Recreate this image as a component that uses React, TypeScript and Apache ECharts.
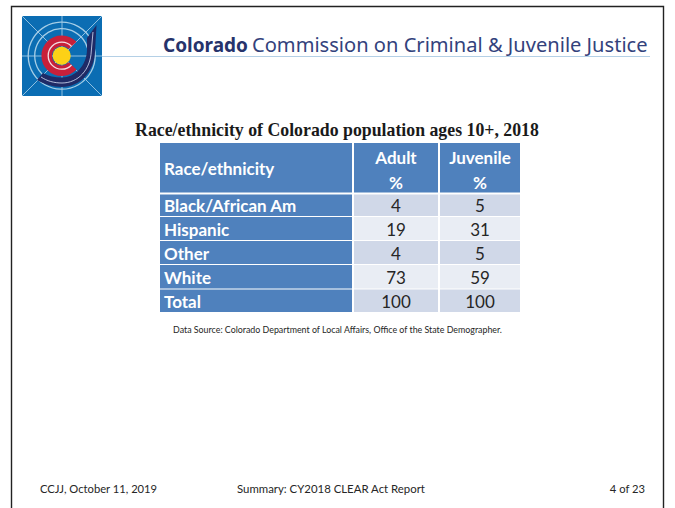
import React, { useEffect, useRef } from "react";
import * as echarts from "echarts";

const brandBold = "Colorado";
const brandRest = "Commission on Criminal & Juvenile Justice";
const tableTitle = "Race/ethnicity of Colorado population ages 10+, 2018";
const headerLabels = ["Race/ethnicity", "Adult", "Juvenile"];
const headerUnit = "%";
const categories = ["Black/African Am", "Hispanic", "Other", "White", "Total"];
const adultValues = [4, 19, 4, 73, 100];
const juvenileValues = [5, 31, 5, 59, 100];
const sourceNote = "Data Source: Colorado Department of Local Affairs, Office of the State Demographer.";
const footerLeft = "CCJJ, October 11, 2019";
const footerCenter = "Summary: CY2018 CLEAR Act Report";
const footerRight = "4 of 23";

// Table geometry in axis units (one unit = one pixel of the grid)
const colEdges = [0, 193, 279, 360];
const rowEdges = [0, 49.5, 73, 97, 121, 145.5, 169];
const BLUE = "#4f81bd";
const BAND1 = "#d0d8e8";
const BAND2 = "#e9edf4";
const BODY_FONT = "Lato";

type Cell = [number, number, string];
const cells: Cell[] = [];
headerLabels.forEach((t, c) => cells.push([c, 0, t]));
categories.forEach((t, i) => {
  cells.push([0, i + 1, t]);
  cells.push([1, i + 1, String(adultValues[i])]);
  cells.push([2, i + 1, String(juvenileValues[i])]);
});

echarts.graphic.registerShape(
  "ccjjHook",
  echarts.graphic.extendPath(
    "M 96.5 25 L 95 52 C 94 72 80 87 62 87 C 52 87 44 84 37 80 L 43 73 C 48 76 55 77.5 62 77.5 C 75 77.5 86.5 66 87 50 L 87 38 Z",
    {}
  ) as any
);
echarts.graphic.registerShape(
  "ccjjStripe",
  echarts.graphic.extendPath("M 93 32 L 91.3 51 C 90.5 70 78 83 62 83 C 54 83 47 81 41 77", {}) as any
);

function renderCell(params: any, api: any) {
  const c = api.value(0) as number;
  const r = api.value(1) as number;
  const text = cells[params.dataIndex][2];
  const p0 = api.coord([colEdges[c], rowEdges[r]]);
  const p1 = api.coord([colEdges[c + 1], rowEdges[r + 1]]);
  const gap = 1;
  const x = p0[0] + (c > 0 ? gap : 0);
  const y = p0[1] + (r === 1 ? 2 : r > 0 ? gap : 0);
  const w = p1[0] - x - (c < 2 ? gap : 0);
  const h = p1[1] - y;
  const fill = c === 0 || r === 0 ? BLUE : r % 2 === 1 ? BAND1 : BAND2;
  const children: any[] = [{ type: "rect", shape: { x, y, width: w, height: h }, style: { fill } }];
  const bold = c === 0 || r === 0;
  const color = bold ? "#ffffff" : "#262626";
  const font = `${bold ? "bold " : ""}17px ${BODY_FONT}`;
  if (r === 0 && c > 0) {
    children.push({
      type: "text",
      style: { text, x: x + w / 2, y: y + 14, align: "center", verticalAlign: "middle", fill: color, font },
    });
    children.push({
      type: "text",
      style: { text: headerUnit, x: x + w / 2, y: y + 39, align: "center", verticalAlign: "middle", fill: color, font },
    });
  } else {
    children.push({
      type: "text",
      style: {
        text,
        x: c === 0 ? x + 4 : x + w / 2,
        y: y + h / 2 + (r === 0 ? 1 : 0.6),
        align: c === 0 ? "left" : "center",
        verticalAlign: "middle",
        fill: color,
        font,
      },
    });
  }
  return { type: "group", children };
}

export default function App() {
  const ref = useRef<HTMLDivElement>(null);
  useEffect(() => {
    const chart = echarts.init(ref.current!, undefined, { renderer: "svg" });
    const ringColor = "#8fc0e0";
    const radial = [
      [22, 16, 102, 96],
      [102, 16, 22, 96],
      [22, 56, 102, 56],
      [62, 16, 62, 96],
    ];
    const cx = 61.7;
    const cy = 55.7;
    const arcStart = Math.PI * 0.24;
    const arcEnd = Math.PI * 1.76;
    chart.setOption({
      animation: false,
      backgroundColor: "#ffffff",
      grid: { left: 160, top: 143, width: 360, height: 169, containLabel: false },
      xAxis: { type: "value", min: 0, max: 360, show: false },
      yAxis: { type: "value", min: 0, max: 169, inverse: true, show: false },
      series: [
        {
          type: "custom",
          coordinateSystem: "cartesian2d",
          silent: true,
          clip: false,
          data: cells.map((d) => [d[0], d[1]]),
          renderItem: renderCell,
          encode: { x: 0, y: 1 },
        },
      ],
      graphic: [
        { type: "polyline", shape: { points: [[11.5, 508], [11.5, 6.5], [663.5, 6.5], [663.5, 508]] }, style: { stroke: "#222222", lineWidth: 1.4, fill: "none" } },
        { type: "line", shape: { x1: 102, y1: 56.5, x2: 650, y2: 56.5 }, style: { stroke: "#b4d0e6", lineWidth: 1 } },
        { type: "rect", shape: { x: 22, y: 16, width: 80, height: 80, r: 1 }, style: { fill: "#0b6db3" } },
        ...radial.map((l) => ({ type: "line", shape: { x1: l[0], y1: l[1], x2: l[2], y2: l[3] }, style: { stroke: ringColor, lineWidth: 1 } })),
        { type: "circle", shape: { cx, cy, r: 33.5 }, style: { fill: "none", stroke: "#a5cde6", lineWidth: 1.3 } },
        { type: "circle", shape: { cx, cy, r: 27 }, style: { fill: "none", stroke: "#a5cde6", lineWidth: 1.3 } },
        { type: "arc", shape: { cx, cy, r: 15, startAngle: arcStart, endAngle: arcEnd, clockwise: true }, style: { stroke: "#c8203a", lineWidth: 10.5, fill: "none" } },
        { type: "arc", shape: { cx, cy, r: 13.5, startAngle: arcStart, endAngle: arcEnd, clockwise: true }, style: { stroke: "#f4dfe4", lineWidth: 1.3, fill: "none" } },
        { type: "circle", shape: { cx, cy, r: 9 }, style: { fill: "#fcd116" } },
        { type: "ccjjHook", style: { fill: "#1f2a66" } },
        { type: "ccjjStripe", style: { stroke: "#c4cde6", lineWidth: 0.9, fill: "none" } },
        { type: "text", style: { text: brandBold, x: 163, y: 44.5, verticalAlign: "middle", font: "bold 19px 'Noto Sans'", fill: "#26336b" } },
        { type: "text", style: { text: brandRest, x: 252, y: 44.5, verticalAlign: "middle", font: "20.1px 'Noto Sans'", fill: "#33427c" } },
        { type: "text", style: { text: tableTitle, x: 337, y: 129.5, align: "center", verticalAlign: "middle", font: "bold 17.8px 'Liberation Serif'", fill: "#1a1a1a" } },
        { type: "text", style: { text: sourceNote, x: 337.5, y: 329, align: "center", verticalAlign: "middle", font: "8.85px Lato", fill: "#262626" } },
        { type: "text", style: { text: footerLeft, x: 40, y: 488, verticalAlign: "middle", font: "11.2px Lato", fill: "#262626" } },
        { type: "text", style: { text: footerCenter, x: 237, y: 488, verticalAlign: "middle", font: "11.4px Lato", fill: "#262626" } },
        { type: "text", style: { text: footerRight, x: 645, y: 488, align: "right", verticalAlign: "middle", font: "11.2px Lato", fill: "#262626" } },
      ],
    });
    return () => chart.dispose();
  }, []);
  return <div ref={ref} style={{ position: "fixed", left: 0, top: 0, width: 675, height: 508 }} />;
}
